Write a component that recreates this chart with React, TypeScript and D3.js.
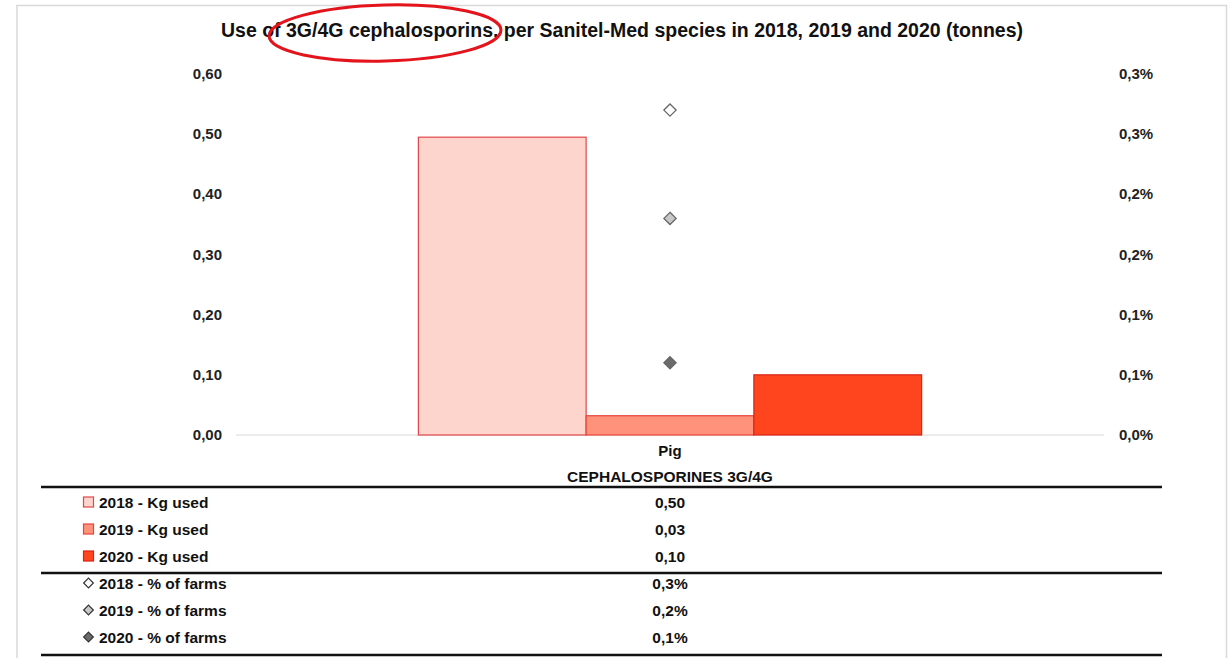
import React, { useEffect } from "react";
import * as d3 from "d3";

// chart data
const categories = ["Pig"];
const axisCategory = "CEPHALOSPORINES 3G/4G";
const years = ["2018", "2019", "2020"];
const kgUsed = [0.495, 0.032, 0.1];
const farmShare = [0.0027, 0.0018, 0.0006];
const kgLabels = ["0,50", "0,03", "0,10"];
const shareLabels = ["0,3%", "0,2%", "0,1%"];
const leftTicks = [0, 0.1, 0.2, 0.3, 0.4, 0.5, 0.6];
const leftTickLabels = ["0,00", "0,10", "0,20", "0,30", "0,40", "0,50", "0,60"];
const rightTicks = [0, 0.0005, 0.001, 0.0015, 0.002, 0.0025, 0.003];
const rightTickLabels = ["0,0%", "0,1%", "0,1%", "0,2%", "0,2%", "0,3%", "0,3%"];

const barFill = ["#fdd5cc", "#ff927a", "#ff451d"];
const barStroke = ["#e0464a", "#e8443a", "#d92418"];
const diamondFill = ["#ffffff", "#c8c8c8", "#6b6b6b"];

const W = 1230;
const H = 658;
const FONT = "'Liberation Sans', Arial, sans-serif";

export default function App() {
  useEffect(() => {
    document.body.style.margin = "0";
  }, []);

  const plot = { left: 236, right: 1104, top: 74, bottom: 435 };

  const x = d3.scaleBand<string>().domain(categories).range([plot.left, plot.right]).padding(0.266);
  const xSub = d3.scaleBand<string>().domain(years).range([0, x.bandwidth()]).padding(0);
  const yLeft = d3.scaleLinear().domain([0, 0.6]).range([plot.bottom, plot.top]);
  const yRight = d3.scaleLinear().domain([0, 0.003]).range([plot.bottom, plot.top]);

  const diamond = d3.symbol().type(d3.symbolDiamond2).size(95);

  const tableLeft = 41;
  const tableRight = 1162;
  const rowY = [502, 529, 556, 583, 610, 637];
  const center = (x("Pig") ?? 0) + x.bandwidth() / 2;

  return (
    <svg width={W} height={H} style={{ display: "block", fontFamily: FONT }}>
      <rect x={0} y={0} width={W} height={H} fill="#fff" />
      {/* outer frame */}
      <path d={`M17,${H} V5.5 H1226.5 V${H}`} fill="none" stroke="#d9d9d9" strokeWidth={1.5} />

      <text x={622} y={37} textAnchor="middle" fontSize={19.5} fontWeight="bold" fill="#111">
        Use of 3G/4G cephalosporins, per Sanitel-Med species in 2018, 2019 and 2020 (tonnes)
      </text>
      <ellipse cx={385} cy={33} rx={116} ry={28} fill="none" stroke="#e3141b" strokeWidth={3}
        transform="rotate(-1.5 385 33)" />

      {/* left axis */}
      {leftTicks.map((t, i) => (
        <text key={"l" + i} x={222} y={yLeft(t) + 5} textAnchor="end" fontSize={15} fontWeight="bold" fill="#222">
          {leftTickLabels[i]}
        </text>
      ))}
      {/* right axis */}
      {rightTicks.map((t, i) => (
        <text key={"r" + i} x={1119} y={yRight(t) + 5} textAnchor="start" fontSize={15} fontWeight="bold" fill="#222">
          {rightTickLabels[i]}
        </text>
      ))}

      <line x1={plot.left} x2={plot.right} y1={plot.bottom} y2={plot.bottom} stroke="#d9d9d9" strokeWidth={1.2} />

      {/* bars */}
      {categories.map((c) =>
        years.map((yr, i) => (
          <rect key={c + yr}
            x={(x(c) ?? 0) + (xSub(yr) ?? 0)}
            y={yLeft(kgUsed[i])}
            width={xSub.bandwidth()}
            height={yLeft(0) - yLeft(kgUsed[i])}
            fill={barFill[i]} stroke={barStroke[i]} strokeWidth={1.2} />
        ))
      )}

      {/* farm share markers */}
      {categories.map((c) =>
        years.map((yr, i) => (
          <path key={"d" + c + yr} d={diamond() ?? ""}
            transform={`translate(${(x(c) ?? 0) + x.bandwidth() / 2},${yRight(farmShare[i])})`}
            fill={diamondFill[i]} stroke="#666" strokeWidth={1.3} />
        ))
      )}

      {categories.map((c) => (
        <text key={"c" + c} x={(x(c) ?? 0) + x.bandwidth() / 2} y={456} textAnchor="middle" fontSize={15} fontWeight="bold" fill="#111">
          {c}
        </text>
      ))}
      <text x={center} y={482} textAnchor="middle" fontSize={15.5} fontWeight="bold" fill="#111">
        {axisCategory}
      </text>

      {/* data table */}
      {[487, 573, 655].map((ly) => (
        <line key={"t" + ly} x1={tableLeft} x2={tableRight} y1={ly} y2={ly} stroke="#111" strokeWidth={2.6} />
      ))}
      {years.map((yr, i) => (
        <g key={"kg" + yr}>
          <rect x={83.5} y={rowY[i] - 5} width={10} height={10} fill={barFill[i]} stroke={barStroke[i]} strokeWidth={1.2} />
          <text x={99} y={rowY[i] + 5.5} fontSize={15.5} fontWeight="bold" fill="#111">{`${yr} - Kg used`}</text>
          <text x={center} y={rowY[i] + 5.5} textAnchor="middle" fontSize={15.5} fontWeight="bold" fill="#111">{kgLabels[i]}</text>
        </g>
      ))}
      {years.map((yr, i) => (
        <g key={"pf" + yr}>
          <path d={d3.symbol().type(d3.symbolDiamond2).size(60)() ?? ""}
            transform={`translate(88.5,${rowY[i + 3]})`}
            fill={diamondFill[i]} stroke="#333" strokeWidth={1.2} />
          <text x={99} y={rowY[i + 3] + 5.5} fontSize={15.5} fontWeight="bold" fill="#111">{`${yr} - % of farms`}</text>
          <text x={center} y={rowY[i + 3] + 5.5} textAnchor="middle" fontSize={15.5} fontWeight="bold" fill="#111">{shareLabels[i]}</text>
        </g>
      ))}
    </svg>
  );
}
